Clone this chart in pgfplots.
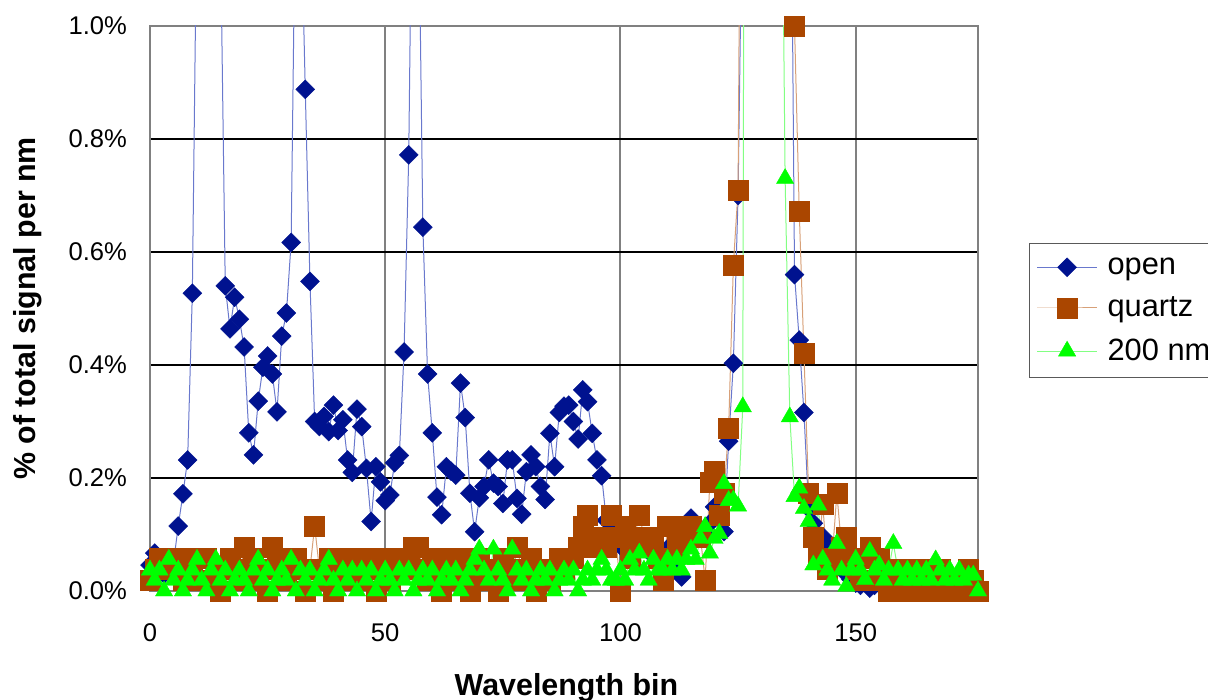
\documentclass[border=0pt]{standalone}
\usepackage{fontspec}
\setmainfont{Liberation Sans}
\usepackage{pgfplots}
\pgfplotsset{compat=1.18}
\definecolor{openmk}{RGB}{0,18,143}
\definecolor{openln}{RGB}{105,120,205}
\definecolor{qzmk}{RGB}{170,70,0}
\definecolor{qzln}{RGB}{215,160,120}
\definecolor{gnmk}{RGB}{0,255,0}
\definecolor{gnln}{RGB}{130,255,130}
\definecolor{gridgray}{RGB}{128,128,128}
\begin{document}
\begin{tikzpicture}
\begin{axis}[
  at={(0,0)}, anchor=south west,
  width=414pt, height=282.5pt, scale only axis,
  xmin=0, xmax=176, ymin=0, ymax=1,
  xtick={0,50,100,150}, ytick={0,0.2,0.4,0.6,0.8,1.0},
  major tick length=0pt,
  xmajorgrids, ymajorgrids,
  x grid style={gridgray, line width=1pt},
  y grid style={black, line width=0.6pt},
  axis line style={gridgray, line width=1pt},
  tick label style={font=\fontsize{12.8}{15}\selectfont},
  /pgf/number format/assume math mode=true,
  yticklabel={\pgfmathprintnumber[fixed,fixed zerofill,precision=1]{\tick}\%},
  xticklabel style={yshift=-13pt},
  yticklabel style={xshift=-8pt},
  xlabel={Wavelength bin}, ylabel={\% of total signal per nm},
  label style={font=\fontsize{15.2}{18}\selectfont\bfseries},
  xlabel style={at={(axis description cs:0.503,-0.171)}, anchor=center},
  ylabel style={at={(axis description cs:-0.1475,0.5)}, anchor=center},
  legend style={at={(1.0616,0.616)}, anchor=north west, draw=black!65, line width=0.6pt,
    font=\fontsize{15.4}{18}\selectfont, row sep=5.7pt, column sep=3pt, inner xsep=3.5pt, inner ysep=5pt},
  legend cell align=left,
  legend image code/.code={\draw[mark repeat=2,mark phase=2] plot coordinates {(0pt,0pt) (15pt,0pt) (30pt,0pt)};},
]
\addplot[color=openln, line width=0.5pt, mark=square*, mark size=3.35pt,
  mark options={solid, rotate=45, draw=openmk, fill=openmk, line width=0.2pt}] coordinates {
(0,0.046) (1,0.067) (2,0.035) (3,0.030) (4,0.042) (5,0.050) (6,0.115) (7,0.172) (8,0.232) (9,0.527)
(10,1.25) (11,2.2) (12,3.0) (13,2.6) (14,1.8) (15,1.15) (16,0.540) (17,0.464) (18,0.520) (19,0.481)
(20,0.432) (21,0.280) (22,0.241) (23,0.336) (24,0.396) (25,0.416) (26,0.384) (27,0.317) (28,0.451) (29,0.492)
(30,0.617) (31,1.3) (32,1.25) (33,0.888) (34,0.548) (35,0.300) (36,0.291) (37,0.309) (38,0.282) (39,0.329)
(40,0.284) (41,0.303) (42,0.232) (43,0.210) (44,0.322) (45,0.291) (46,0.217) (47,0.123) (48,0.220) (49,0.193)
(50,0.160) (51,0.170) (52,0.227) (53,0.240) (54,0.423) (55,0.772) (56,1.5) (57,1.3) (58,0.644) (59,0.384)
(60,0.280) (61,0.166) (62,0.135) (63,0.220) (64,0.212) (65,0.205) (66,0.368) (67,0.307) (68,0.173) (69,0.105)
(70,0.165) (71,0.185) (72,0.232) (73,0.191) (74,0.185) (75,0.155) (76,0.232) (77,0.232) (78,0.164) (79,0.136)
(80,0.211) (81,0.241) (82,0.220) (83,0.185) (84,0.162) (85,0.279) (86,0.220) (87,0.316) (88,0.327) (89,0.329)
(90,0.300) (91,0.269) (92,0.356) (93,0.335) (94,0.279) (95,0.232) (96,0.204) (97,0.125) (98,0.120) (99,0.100)
(100,0.080) (101,0.075) (102,0.085) (103,0.070) (104,0.080) (105,0.096) (106,0.070) (107,0.080) (108,0.060) (109,0.065)
(110,0.075) (111,0.060) (112,0.050) (113,0.025) (114,0.085) (115,0.129) (116,0.110) (117,0.094) (118,0.100) (119,0.120)
(120,0.149) (121,0.130) (122,0.105) (123,0.265) (124,0.403) (125,0.700) (126,1.3) (127,5.0) (128,8.0) (129,9.0)
(130,7.0) (131,5.0) (132,4.0) (133,3.5) (134,3.0) (135,2.5) (136,1.6) (137,0.560) (138,0.444) (139,0.316)
(140,0.146) (141,0.120) (142,0.067) (143,0.096) (144,0.080) (145,0.060) (146,0.050) (147,0.045) (148,0.030) (149,0.020)
(150,0.014) (151,0.010) (152,0.020) (153,0.005) (154,0.010) (155,0.015) (156,0.005) (157,0.010) (158,0.005) (159,0.010)
(160,0.005) (161,0.008) (162,0.005) (163,0.010) (164,0.005) (165,0.004) (166,0.006) (167,0.005) (168,0.004) (169,0.006)
(170,0.005) (171,0.004) (172,0.006) (173,0.005) (174,0.004) (175,0.005) (176,0.004)
};
\addlegendentry{open}
\addplot[color=qzln, line width=0.5pt, mark=square*, mark size=5pt,
  mark options={solid, draw=qzmk, fill=qzmk, line width=0.2pt}] coordinates {
(0,0.019) (1,0.039) (2,0.058) (3,0.058) (4,0.039) (5,0.058) (6,0.039) (7,0.019) (8,0.058) (9,0.039)
(10,0.019) (11,0.058) (12,0.058) (13,0.019) (14,0.039) (15,0.000) (16,0.039) (17,0.058) (18,0.039) (19,0.019)
(20,0.077) (21,0.039) (22,0.058) (23,0.019) (24,0.039) (25,0.000) (26,0.077) (27,0.058) (28,0.039) (29,0.019)
(30,0.058) (31,0.058) (32,0.039) (33,0.000) (34,0.039) (35,0.115) (36,0.039) (37,0.019) (38,0.058) (39,0.000)
(40,0.039) (41,0.019) (42,0.058) (43,0.039) (44,0.058) (45,0.019) (46,0.039) (47,0.058) (48,0.000) (49,0.039)
(50,0.058) (51,0.019) (52,0.039) (53,0.058) (54,0.039) (55,0.058) (56,0.077) (57,0.077) (58,0.039) (59,0.019)
(60,0.058) (61,0.039) (62,0.000) (63,0.039) (64,0.058) (65,0.019) (66,0.058) (67,0.039) (68,0.000) (69,0.019)
(70,0.058) (71,0.039) (72,0.019) (73,0.039) (74,0.000) (75,0.058) (76,0.039) (77,0.019) (78,0.077) (79,0.039)
(80,0.019) (81,0.058) (82,0.000) (83,0.039) (84,0.039) (85,0.019) (86,0.039) (87,0.058) (88,0.039) (89,0.058)
(90,0.058) (91,0.077) (92,0.115) (93,0.135) (94,0.096) (95,0.077) (96,0.096) (97,0.077) (98,0.135) (99,0.096)
(100,0.000) (101,0.115) (102,0.058) (103,0.096) (104,0.135) (105,0.096) (106,0.077) (107,0.096) (108,0.058) (109,0.019)
(110,0.115) (111,0.115) (112,0.077) (113,0.096) (114,0.115) (115,0.115) (116,0.096) (117,0.096) (118,0.019) (119,0.193)
(120,0.212) (121,0.135) (122,0.173) (123,0.289) (124,0.577) (125,0.710) (126,2.0) (127,5.0) (128,7.0) (129,8.0)
(130,6.0) (131,5.0) (132,4.0) (133,3.5) (134,3.2) (135,3.0) (136,1.5) (137,1.000) (138,0.673) (139,0.420)
(140,0.173) (141,0.096) (142,0.058) (143,0.154) (144,0.039) (145,0.058) (146,0.173) (147,0.077) (148,0.096) (149,0.058)
(150,0.039) (151,0.019) (152,0.058) (153,0.077) (154,0.019) (155,0.058) (156,0.039) (157,0.000) (158,0.019) (159,0.039)
(160,0.039) (161,0.000) (162,0.019) (163,0.000) (164,0.039) (165,0.019) (166,0.000) (167,0.019) (168,0.039) (169,0.000)
(170,0.019) (171,0.000) (172,0.019) (173,0.000) (174,0.039) (175,0.019) (176,0.000)
};
\addlegendentry{quartz}
\addplot[color=gnln, line width=0.5pt, mark=triangle*, mark size=5pt,
  mark options={solid, draw=gnmk, fill=gnmk, line width=0.2pt}] coordinates {
(0,0.037) (1,0.019) (2,0.037) (3,0.000) (4,0.056) (5,0.019) (6,0.037) (7,0.000) (8,0.019) (9,0.037)
(10,0.056) (11,0.019) (12,0.000) (13,0.037) (14,0.056) (15,0.019) (16,0.037) (17,0.000) (18,0.019) (19,0.037)
(20,0.019) (21,0.000) (22,0.037) (23,0.056) (24,0.019) (25,0.037) (26,0.000) (27,0.019) (28,0.037) (29,0.019)
(30,0.056) (31,0.000) (32,0.037) (33,0.019) (34,0.037) (35,0.000) (36,0.019) (37,0.037) (38,0.056) (39,0.019)
(40,0.000) (41,0.037) (42,0.019) (43,0.037) (44,0.000) (45,0.037) (46,0.019) (47,0.037) (48,0.000) (49,0.019)
(50,0.037) (51,0.019) (52,0.000) (53,0.037) (54,0.019) (55,0.037) (56,0.000) (57,0.019) (58,0.037) (59,0.019)
(60,0.037) (61,0.000) (62,0.019) (63,0.037) (64,0.019) (65,0.037) (66,0.000) (67,0.019) (68,0.037) (69,0.056)
(70,0.074) (71,0.037) (72,0.019) (73,0.074) (74,0.037) (75,0.019) (76,0.000) (77,0.074) (78,0.037) (79,0.019)
(80,0.037) (81,0.000) (82,0.019) (83,0.037) (84,0.019) (85,0.037) (86,0.000) (87,0.019) (88,0.037) (89,0.019)
(90,0.037) (91,0.000) (92,0.019) (93,0.037) (94,0.019) (95,0.037) (96,0.056) (97,0.037) (98,0.019) (99,0.019)
(100,0.037) (101,0.019) (102,0.056) (103,0.037) (104,0.067) (105,0.037) (106,0.019) (107,0.056) (108,0.037) (109,0.037)
(110,0.056) (111,0.037) (112,0.056) (113,0.037) (114,0.056) (115,0.074) (116,0.056) (117,0.093) (118,0.114) (119,0.067)
(120,0.093) (121,0.102) (122,0.190) (123,0.160) (124,0.161) (125,0.150) (126,0.326) (127,4.0) (128,7.0) (129,8.0)
(130,7.0) (131,6.0) (132,5.0) (133,3.0) (134,1.6) (135,0.730) (136,0.308) (137,0.167) (138,0.182) (139,0.146)
(140,0.123) (141,0.046) (142,0.152) (143,0.056) (144,0.037) (145,0.019) (146,0.084) (147,0.037) (148,0.008) (149,0.037)
(150,0.056) (151,0.037) (152,0.020) (153,0.070) (154,0.037) (155,0.046) (156,0.019) (157,0.037) (158,0.084) (159,0.037)
(160,0.019) (161,0.037) (162,0.019) (163,0.037) (164,0.019) (165,0.037) (166,0.019) (167,0.055) (168,0.037) (169,0.019)
(170,0.037) (171,0.019) (172,0.037) (173,0.019) (174,0.028) (175,0.028) (176,0.000)
};
\addlegendentry{200 nm}
\end{axis}
\pgfresetboundingbox
\useasboundingbox (-75pt,-54.5pt) rectangle (529pt,295.5pt);
\end{tikzpicture}
\end{document}
